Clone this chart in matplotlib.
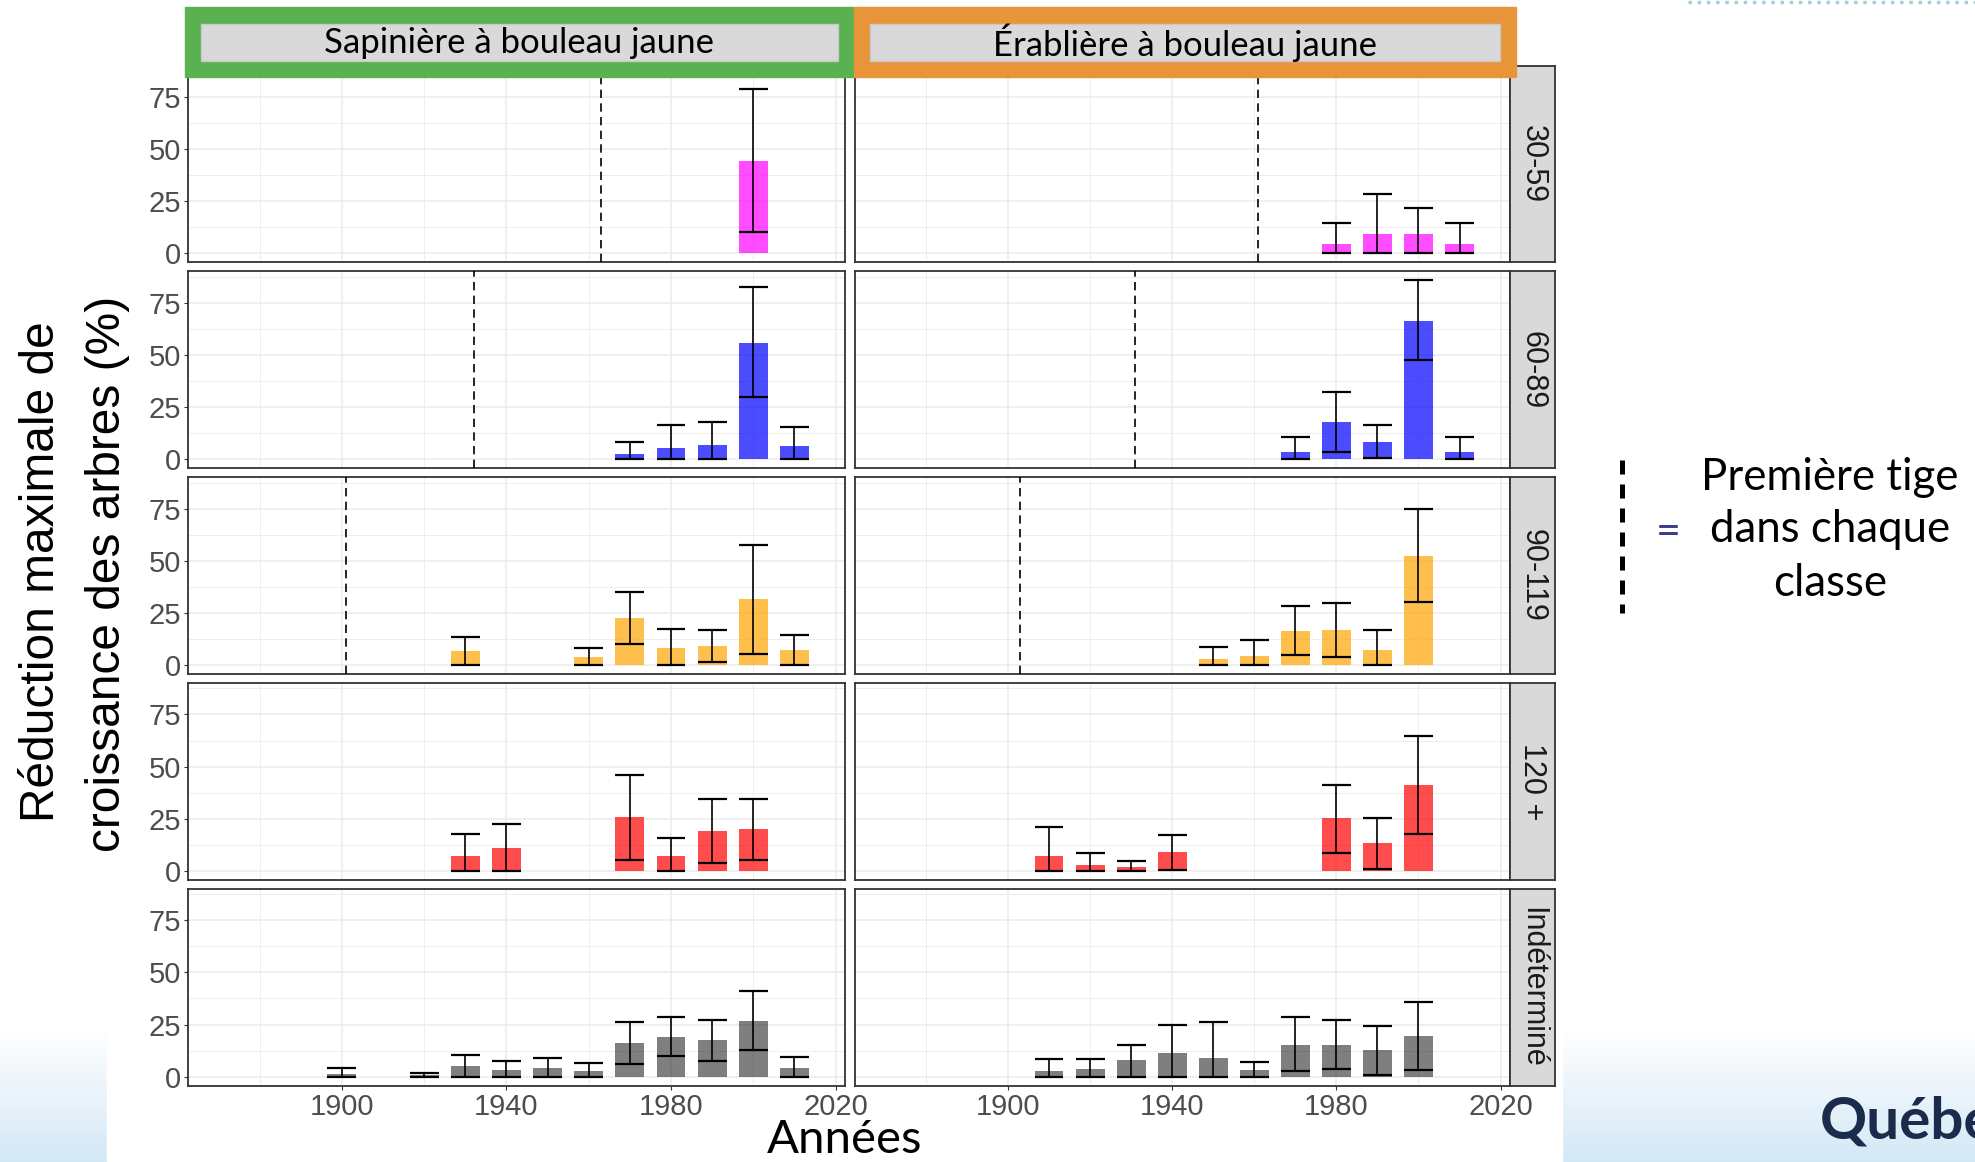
import numpy as np
import matplotlib
matplotlib.use("Agg")
import matplotlib.pyplot as plt
from matplotlib.patches import Rectangle
from matplotlib.ticker import MultipleLocator, FixedLocator
from matplotlib.colors import LinearSegmentedColormap

plt.rcParams['font.family'] = ['Liberation Sans', 'DejaVu Sans']

W, H = 1975, 1162

zones = ["Sapinière à bouleau jaune", "Érablière à bouleau jaune"]
classes = ["30-59", "60-89", "90-119", "120 +", "Indéterminé"]
couleurs = ["#FF00FF", "#0000FF", "#FFA500", "#FF0000", "#000000"]
alphas = [0.7, 0.7, 0.7, 0.7, 0.5]

# année de la première tige dans chaque classe (None = hors graphique)
premiere_sap = [1963, 1932, 1901, None, None]
premiere_era = [1961, 1931, 1903, None, None]

# --- Sapinière à bouleau jaune ---
sap_30_an = [2000]
sap_30_moy = [44.4]
sap_30_bas = [9.9]
sap_30_haut = [78.8]

sap_60_an = [1970, 1980, 1990, 2000, 2010]
sap_60_moy = [2.4, 5.3, 6.9, 55.8, 6.3]
sap_60_bas = [0, 0, 0, 29.5, 0]
sap_60_haut = [8.2, 16.5, 17.8, 82.7, 15.1]

sap_90_an = [1930, 1960, 1970, 1980, 1990, 2000, 2010]
sap_90_moy = [6.6, 3.7, 22.4, 8.0, 9.0, 31.6, 7.1]
sap_90_bas = [0, 0, 9.8, 0, 1.6, 5.3, 0]
sap_90_haut = [13.3, 8.3, 35.1, 17.3, 16.5, 57.7, 14.3]

sap_120_an = [1930, 1940, 1970, 1980, 1990, 2000]
sap_120_moy = [7.1, 10.9, 25.8, 7.1, 19.1, 20.0]
sap_120_bas = [0, 0, 5.1, 0, 3.5, 5.1]
sap_120_haut = [17.8, 22.6, 45.8, 15.9, 34.3, 34.3]

sap_ind_an = [1900, 1920, 1930, 1940, 1950, 1960, 1970, 1980, 1990, 2000, 2010]
sap_ind_moy = [1.3, 1.0, 5.1, 3.2, 4.2, 2.7, 16.2, 19.1, 17.6, 26.8, 4.2]
sap_ind_bas = [0, 0, 0, 0, 0, 0, 6.1, 9.8, 7.4, 12.8, 0]
sap_ind_haut = [4.2, 1.9, 10.6, 7.5, 9.0, 6.4, 26.3, 28.4, 27.2, 40.9, 9.5]

# --- Érablière à bouleau jaune ---
era_30_an = [1980, 1990, 2000, 2010]
era_30_moy = [4.3, 9.1, 9.1, 4.3]
era_30_bas = [0, 0, 0, 0]
era_30_haut = [14.3, 28.2, 21.5, 14.3]

era_60_an = [1970, 1980, 1990, 2000, 2010]
era_60_moy = [3.4, 17.8, 8.2, 66.3, 3.4]
era_60_bas = [0, 3.4, 0.3, 47.4, 0]
era_60_haut = [10.6, 32.2, 16.3, 85.7, 10.6]

era_90_an = [1950, 1960, 1970, 1980, 1990, 2000]
era_90_moy = [2.7, 4.3, 16.2, 16.7, 7.1, 52.2]
era_90_bas = [0, 0, 4.5, 3.8, 0, 30.3]
era_90_haut = [8.5, 11.9, 28.2, 29.6, 16.8, 75.0]

era_120_an = [1910, 1920, 1930, 1940, 1980, 1990, 2000]
era_120_moy = [7.1, 2.7, 1.8, 9.0, 25.3, 13.3, 41.2]
era_120_bas = [0, 0, 0, 0.5, 8.7, 0.6, 17.8]
era_120_haut = [21.2, 8.3, 4.6, 17.1, 41.3, 25.5, 64.9]

era_ind_an = [1910, 1920, 1930, 1940, 1950, 1960, 1970, 1980, 1990, 2000]
era_ind_moy = [2.7, 3.7, 8.0, 11.4, 9.0, 3.2, 15.2, 15.2, 12.8, 19.6]
era_ind_bas = [0, 0, 0, 0, 0, 0, 2.7, 3.7, 0.8, 3.4]
era_ind_haut = [8.7, 8.7, 15.4, 25.0, 26.4, 6.9, 28.4, 27.1, 24.4, 35.7]

panneaux = [
    [(sap_30_an, sap_30_moy, sap_30_bas, sap_30_haut), (era_30_an, era_30_moy, era_30_bas, era_30_haut)],
    [(sap_60_an, sap_60_moy, sap_60_bas, sap_60_haut), (era_60_an, era_60_moy, era_60_bas, era_60_haut)],
    [(sap_90_an, sap_90_moy, sap_90_bas, sap_90_haut), (era_90_an, era_90_moy, era_90_bas, era_90_haut)],
    [(sap_120_an, sap_120_moy, sap_120_bas, sap_120_haut), (era_120_an, era_120_moy, era_120_bas, era_120_haut)],
    [(sap_ind_an, sap_ind_moy, sap_ind_bas, sap_ind_haut), (era_ind_an, era_ind_moy, era_ind_bas, era_ind_haut)],
]
premieres = [premiere_sap, premiere_era]

x_major = [1900, 1940, 1980, 2020]
x_minor = [1880, 1920, 1960, 2000]


def px(x0, y0, x1, y1):
    # pixel box (top-left origin) -> figure fraction
    return [x0 / W, 1 - y1 / H, (x1 - x0) / W, (y1 - y0) / H]


fig = plt.figure(figsize=(W / 100, H / 100), dpi=100)

# fond de diapositive
bg = fig.add_axes([0, 0, 1, 1])
bg.set_zorder(-5)
grad = np.linspace(0, 1, 200).reshape(-1, 1)
cmap_bg = LinearSegmentedColormap.from_list("bleu", ["#FFFFFF", "#D4E8F6"])
bg.imshow(grad, extent=(0, W, H, 1030), aspect='auto', cmap=cmap_bg)
bg.add_patch(Rectangle((107, 0), 1562 - 107, H, color='white'))
bg.set_xlim(0, W)
bg.set_ylim(H, 0)
bg.axis('off')

col_x = [(188, 845), (854.6, 1510)]
larg = 7

for i in range(5):
    bot = 262 + i * 205.9
    top = bot - 196.5
    for j in range(2):
        x0, x1 = col_x[j]
        ax = fig.add_axes(px(x0, top, x1, bot))
        an, moy, bas, haut = panneaux[i][j]
        an = np.array(an)
        ax.bar(an, moy, width=larg, color=couleurs[i], alpha=alphas[i], zorder=2)
        ax.vlines(an, bas, haut, color='black', lw=1.2, zorder=3)
        ax.hlines(bas, an - larg / 2, an + larg / 2, color='black', lw=1.6, zorder=3)
        ax.hlines(haut, an - larg / 2, an + larg / 2, color='black', lw=1.6, zorder=3)
        p = premieres[j][i]
        if p is not None:
            ax.axvline(p, color='black', lw=1.2, dashes=(5, 3.2), zorder=3)

        ax.set_xlim(1862.6, 2022.3)
        ax.set_ylim(-4.3, 90)
        ax.xaxis.set_major_locator(FixedLocator(x_major))
        ax.xaxis.set_minor_locator(FixedLocator(x_minor))
        ax.yaxis.set_major_locator(MultipleLocator(25))
        ax.yaxis.set_minor_locator(MultipleLocator(12.5))
        ax.grid(which='major', color='#EBEBEB', lw=1.1)
        ax.grid(which='minor', color='#EBEBEB', lw=0.6)
        ax.set_axisbelow(True)
        for s in ax.spines.values():
            s.set_color('#333333')
            s.set_linewidth(1.3)
        ax.tick_params(which='minor', length=0)
        ax.tick_params(which='major', length=3, color='#333333', labelcolor='#4D4D4D',
                       labelsize=21, pad=2)
        if j == 1:
            ax.tick_params(axis='y', left=False, labelleft=False)
        if i < 4:
            ax.tick_params(axis='x', bottom=False, labelbottom=False)

    # bandeau de droite
    st = fig.add_axes(px(1510, top, 1555, bot))
    st.set_facecolor('#D9D9D9')
    st.set_xticks([])
    st.set_yticks([])
    for s in st.spines.values():
        s.set_color('#333333')
        s.set_linewidth(1.3)
    st.text(0.5, 0.5, classes[i], rotation=270, ha='center', va='center',
            fontsize=22, color='#1A1A1A', transform=st.transAxes)

# titres d'axes
fig.text(42 / W, 1 - 572 / H, "Réduction maximale de", rotation=90,
         ha='center', va='center', fontsize=34.5)
fig.text(107 / W, 1 - 574 / H, "croissance des arbres (%)", rotation=90,
         ha='center', va='center', fontsize=34.5)
fig.text(845 / W, 1 - 1140 / H, "Années", ha='center', va='center',
         fontsize=34, family=['Lato', 'DejaVu Sans'])

# superposition : en-têtes, légende, logo
ov = fig.add_axes([0, 0, 1, 1])
ov.set_zorder(10)
ov.set_xlim(0, W)
ov.set_ylim(H, 0)
ov.axis('off')
ov.patch.set_alpha(0)

entetes = [(184.5, 854, '#5AB14F'), (854, 1515.7, '#E8953A')]
for (a, b, c), nom in zip(entetes, zones):
    ov.add_patch(Rectangle((a, 7.3), b - a, 69.4, color=c))
    ov.add_patch(Rectangle((a + 16, 24), b - a - 32, 37, facecolor='#D9D9D9',
                           edgecolor='#C9C9C9', lw=1))
    ov.text((a + b) / 2, 43, nom, ha='center', va='center', fontsize=25,
            family=['Lato', 'DejaVu Sans'], color='black')

ov.plot([1622, 1622], [460, 613], color='black', lw=3.6, dashes=(2.8, 2.0))
ov.text(1668, 532, "=", ha='center', va='center', fontsize=31, color='#3B3B8C',
        family=['Lato', 'DejaVu Sans'])
for yy, t in zip([477, 530, 583], ["Première tige", "dans chaque", "classe"]):
    ov.text(1830, yy, t, ha='center', va='center', fontsize=31.5,
            family=['Lato', 'DejaVu Sans'], color='black')

ov.plot([1688, 1975], [2, 2], color='#9ED3DA', lw=2.5, ls=':')
ov.text(1820, 1138, "Québec", ha='left', va='baseline', fontsize=42, fontweight='bold',
        color='#1B2B4B', family=['Lato', 'DejaVu Sans'])

fig.savefig("out.png", dpi=100)
